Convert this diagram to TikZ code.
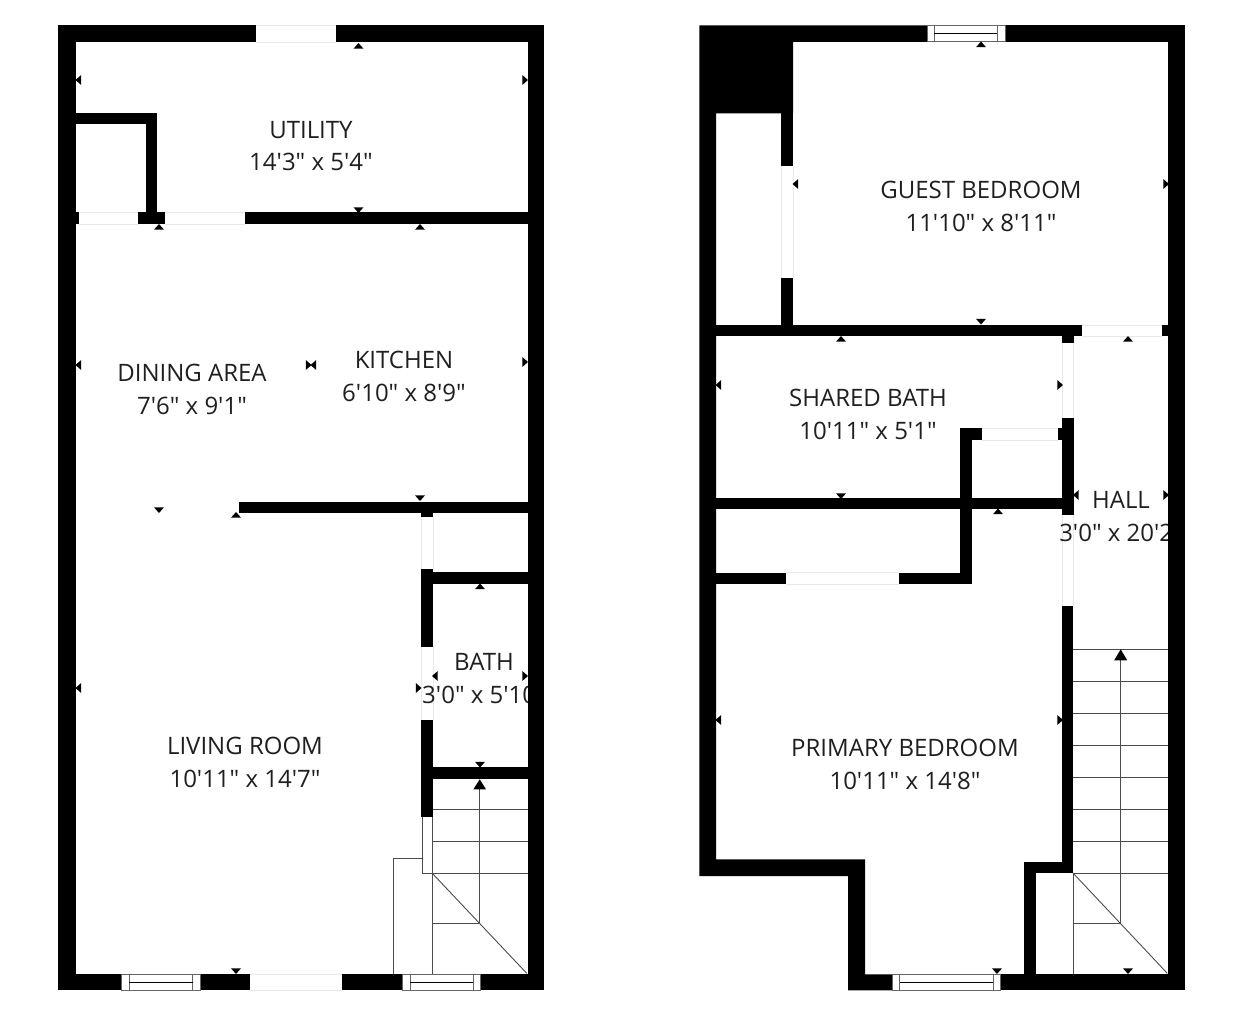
\documentclass[tikz,border=0pt]{standalone}
\usepackage{fontspec}
\newfontfamily\labfont{Open Sans}
\tikzset{
  roomlabel/.style={font=\labfont\fontsize{24}{32.5}\selectfont,align=center,text=black!88,inner sep=0pt},
  wallfill/.style={fill=black},
  gapline/.style={draw=black!9,line width=0.8pt},
  thinline/.style={draw=black!70,line width=0.9pt},
  marker/.style={fill=black},
  winline/.style={draw=black!60,line width=1pt},
}
\newcommand{\wall}[4]{\fill[wallfill] (#1,#2) rectangle (#3,#4);}
\newcommand{\gaph}[4]{\draw[gapline] (#1,#3)--(#2,#3) (#1,#4)--(#2,#4);}
\newcommand{\gapv}[4]{\draw[gapline] (#3,#1)--(#3,#2) (#4,#1)--(#4,#2);}
\newcommand{\win}[5]{% x1,x2,inner1,inner2,y1,  height 16
  \draw[winline,fill=white] (#1,#5) rectangle (#2,#5+16);
  \draw[winline] (#3,#5)--(#3,#5+16) (#4,#5)--(#4,#5+16);
  \draw[draw=black,line width=0.9pt] (#3,#5+8)--(#4,#5+8);}
\newcommand{\mkU}[2]{\fill[marker] (#1,#2-3)--(#1+5,#2+2.7)--(#1-5,#2+2.7)--cycle;}
\newcommand{\mkD}[2]{\fill[marker] (#1,#2+3)--(#1+5,#2-2.7)--(#1-5,#2-2.7)--cycle;}
\newcommand{\mkL}[2]{\fill[marker] (#1-3,#2)--(#1+2.7,#2-5)--(#1+2.7,#2+5)--cycle;}
\newcommand{\mkR}[2]{\fill[marker] (#1+3,#2)--(#1-2.7,#2-5)--(#1-2.7,#2+5)--cycle;}
\begin{document}
\begin{tikzpicture}[x=1pt,y=-1pt]
\useasboundingbox (0,0) rectangle (1242,1030);
\fill[white] (0,0) rectangle (1242,1030);

% ---------- light outlines of openings
\gaph{255.7}{336.3}{25.3}{42.3}
\gaph{78.7}{138}{212.3}{224.3}
\gaph{164.7}{244.7}{212.3}{224.3}
\gapv{516.7}{569.3}{421.3}{433.3}
\gapv{647}{720}{421.3}{433.3}
\gaph{249.7}{341.7}{974}{990.3}
\gapv{166}{278.3}{781.3}{793}
\gaph{1082}{1162.3}{325}{336.3}
\gapv{343}{418.3}{1062.3}{1073.7}
\gapv{515}{606}{1062.3}{1073.7}
\gaph{982.3}{1058.3}{428.3}{440}
\gaph{786.3}{899}{572.7}{584}

% ---------- room labels
\node[roomlabel] (utility) at (311,146.3) {UTILITY\\14'3" x 5'4"};
\node[roomlabel] (dining) at (192,389.3) {DINING AREA\\7'6" x 9'1"};
\node[roomlabel] (kitchen) at (404,376.3) {KITCHEN\\6'10" x 8'9"};
\node[roomlabel] (bath) at (484,678.3) {BATH\\3'0" x 5'10"};
\node[roomlabel] (living) at (245,762.3) {LIVING ROOM\\10'11" x 14'7"};
\node[roomlabel] (guest) at (981,206.3) {GUEST BEDROOM\\11'10" x 8'11"};
\node[roomlabel] (shared) at (868,414.3) {SHARED BATH\\10'11" x 5'1"};
\node[roomlabel] (primary) at (905,764.3) {PRIMARY BEDROOM\\10'11" x 14'8"};
\node[roomlabel] (hall) at (1121,516.3) {HALL\\3'0" x 20'2"};
\fill[white] (544.5,640) rectangle (570,720);
\fill[white] (1185.5,480) rectangle (1215,550);

% ---------- stairs, left plan
\draw[thinline] (433,809.3)--(528,809.3) (433,841.3)--(528,841.3) (433,873)--(528,873);
\draw[thinline] (479.7,785)--(479.7,923.3) (432,923.3)--(479.7,923.3);
\draw[thinline] (432,873)--(432,974);
\draw[thinline] (432,873)--(526.7,973.3);
\draw[thinline] (422,858.7)--(393.3,858.7)--(393.3,974);
\draw[thinline,fill=white] (422,816.7) rectangle (432.3,873);
\fill[marker] (479.7,779.3)--(486,789.3)--(473.4,789.3)--cycle;

% ---------- stairs, right plan
\draw[thinline] (1073.3,649.3)--(1168.3,649.3) (1073.3,681.3)--(1168.3,681.3)
  (1073.3,713.3)--(1168.3,713.3) (1073.3,745.7)--(1168.3,745.7)
  (1073.3,777.7)--(1168.3,777.7) (1073.3,809.7)--(1168.3,809.7)
  (1073.3,841.3)--(1168.3,841.3) (1073.3,873.3)--(1168.3,873.3);
\draw[thinline] (1120.7,655)--(1120.7,923.7) (1073,923.7)--(1120.7,923.7);
\draw[thinline] (1073,873)--(1073,974);
\draw[thinline] (1073,873)--(1167.3,973.3);
\fill[marker] (1120.7,649.3)--(1127.2,660.3)--(1114.2,660.3)--cycle;

% ---------- left plan walls
\wall{58.3}{25.3}{255.7}{42.3}
\wall{336.3}{25.3}{544.3}{42.3}
\wall{58.3}{25.3}{75.5}{990.3}
\wall{527.7}{25.3}{544.3}{990.3}
\wall{58.3}{974}{121.7}{990.3}
\wall{200}{974}{249.7}{990.3}
\wall{341.7}{974}{402.3}{990.3}
\wall{480.3}{974}{544.3}{990.3}
\wall{75}{112.7}{157}{124.3}
\wall{145.7}{112.7}{157}{212.3}
\wall{75}{212.3}{78.7}{224.3}
\wall{138}{212.3}{164.7}{224.3}
\wall{244.7}{212.3}{528}{224.3}
\wall{239}{501.7}{528}{512.7}
\wall{421.3}{512}{433.3}{516.7}
\wall{421.3}{569.3}{433.3}{647}
\wall{421.3}{720}{433.3}{816.7}
\wall{421.3}{572.3}{528}{584.3}
\wall{421.3}{767}{528}{778.7}
\win{121.7}{200}{129.3}{192.7}{974}
\win{402.3}{480.3}{410}{473.3}{974}

% ---------- right plan walls
\fill[wallfill] (699.3,25.3)--(927,25.3)--(927,42)--(793,42)--(793,113.3)--(716,113.3)
  --(716,859.3)--(865,859.3)--(865,974.3)--(892.3,974.3)--(892.3,990.3)--(848,990.3)
  --(848,876)--(699.3,876)--cycle;
\wall{1005}{25.3}{1185}{42}
\wall{1168.3}{25.3}{1185}{990.3}
\wall{781.3}{113}{793}{166}
\wall{781.3}{278.3}{793}{325}
\wall{716}{325}{1082}{336.3}
\wall{1162.3}{325}{1168.5}{336.3}
\wall{1062.3}{336}{1073.7}{343}
\wall{1062.3}{418.3}{1073.7}{515}
\wall{1062.3}{606}{1073.3}{873.3}
\wall{960.3}{428.3}{971.7}{584}
\wall{960.3}{428.3}{982.3}{440}
\wall{1058.3}{428.3}{1062.5}{440}
\wall{716}{498}{1062.5}{509}
\wall{716}{572.7}{786.3}{584}
\wall{899}{572.7}{971.7}{584}
\wall{1024}{861.7}{1073.3}{873.3}
\wall{1024}{861.7}{1035.7}{974.3}
\wall{1000.7}{974.3}{1185}{990.3}
\win{892.3}{1000.7}{899.7}{993.3}{974.3}
\win{927}{1005}{934.3}{997.3}{25.3}

% ---------- dimension ticks, left plan
\mkU{358.5}{46}\mkL{78.5}{80}\mkR{525}{80}\mkD{358.5}{210}
\mkU{159}{227}\mkU{420}{227}\mkL{78.5}{365}\mkR{525}{362}
\mkR{308.5}{365}\mkL{313.5}{365}\mkD{159}{510}\mkU{236}{515}
\mkD{420}{498}\mkU{480}{586.5}\mkR{418.5}{688}\mkL{435}{676}
\mkR{525}{676}\mkD{480}{764.5}\mkL{78.5}{688}\mkD{236}{971}

% ---------- dimension ticks, right plan
\mkU{981}{44.5}\mkL{795.5}{184}\mkR{1166}{184}\mkD{981}{321.5}
\mkU{841}{339}\mkL{718.5}{385}\mkR{1060}{385}\mkU{1128}{339}
\mkD{841}{496}\mkU{998}{511.5}\mkL{1076}{495}\mkR{1166}{495}
\mkL{718.5}{720}\mkR{1060}{720}\mkD{997}{971}\mkD{1128}{971}
\end{tikzpicture}
\end{document}
